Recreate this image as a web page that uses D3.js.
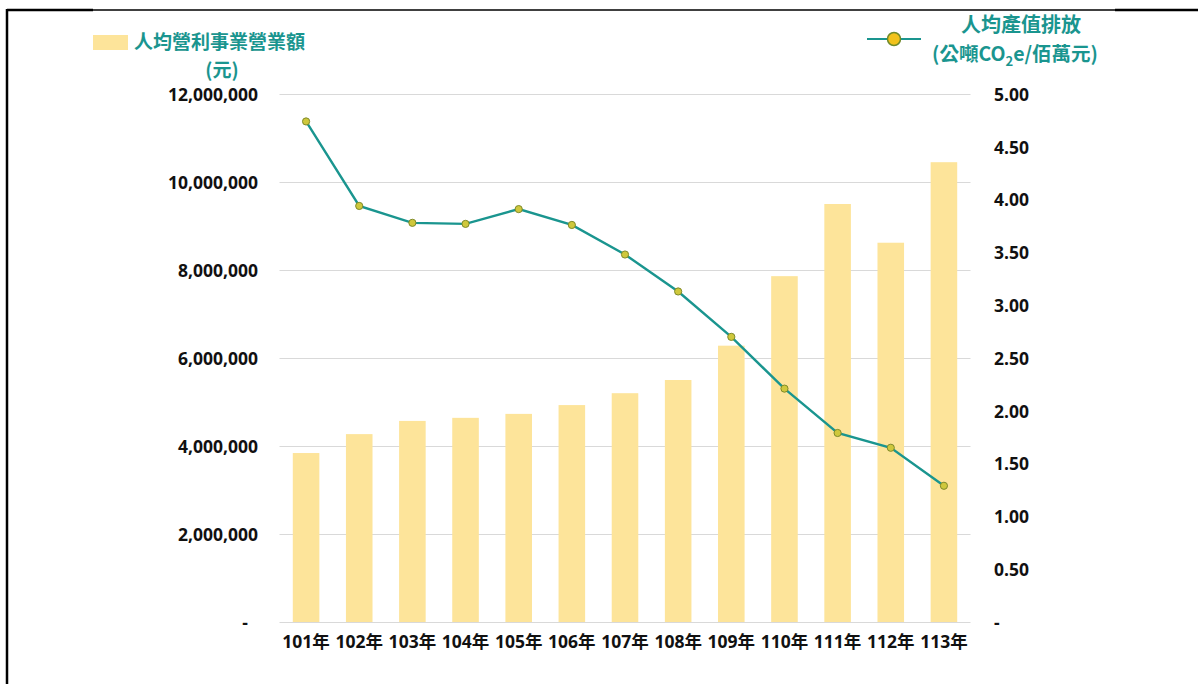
<!DOCTYPE html>
<html><head><meta charset="utf-8">
<script src="https://cdn.jsdelivr.net/npm/d3@7"></script>
<style>
html,body{margin:0;padding:0;background:#fff;}
svg{display:block;}
</style></head>
<body><svg id="c" width="1198" height="684"></svg>
<script>
const categories = ["101年","102年","103年","104年","105年","106年","107年","108年","109年","110年","111年","112年","113年"];
const revenuePerCapita = [3840000,4270000,4570000,4640000,4730000,4930000,5200000,5500000,6280000,7860000,9500000,8620000,10450000];
const emissionPerOutput = [4.74,3.94,3.78,3.77,3.91,3.76,3.48,3.13,2.70,2.21,1.79,1.65,1.29];
const leftTicks = [0,2000000,4000000,6000000,8000000,10000000,12000000];
const rightTicks = [0,0.5,1,1.5,2,2.5,3,3.5,4,4.5,5];
const legendBar = ["人均營利事業營業額","(元)"];
const legendLine = ["人均產值排放","(公噸CO","2","e/佰萬元)"];

const svg = d3.select("#c");
const FONT = "'Open Sans','Noto Sans CJK TC',sans-serif";
const CJK = "'Noto Sans CJK TC','Open Sans',sans-serif";
const teal = "#1a958f";

// frame
svg.append("line").attr("x1",7).attr("x2",1198).attr("y1",10).attr("y2",10).attr("stroke","#000").attr("stroke-width",1.5);
svg.append("line").attr("x1",7).attr("x2",93).attr("y1",10).attr("y2",10).attr("stroke","#000").attr("stroke-width",2.5);
svg.append("line").attr("x1",1115).attr("x2",1198).attr("y1",10).attr("y2",10).attr("stroke","#000").attr("stroke-width",2.5);
svg.append("line").attr("x1",7).attr("x2",7).attr("y1",9).attr("y2",684).attr("stroke","#000").attr("stroke-width",2.5);

const x = d3.scaleBand().domain(categories).range([279.5,970.5]).paddingInner(0.5).paddingOuter(0.25);
const yL = d3.scaleLinear().domain([0,12000000]).range([622,94]);
const yR = d3.scaleLinear().domain([0,5]).range([622,94]);

// gridlines
svg.append("g").selectAll("line").data(leftTicks).join("line")
  .attr("x1",279.5).attr("x2",970.5)
  .attr("y1",d=>yL(d)+0.5).attr("y2",d=>yL(d)+0.5)
  .attr("stroke","#d9d9d9").attr("stroke-width",1);

// bars
svg.append("g").selectAll("rect").data(categories).join("rect")
  .attr("x",d=>x(d)).attr("width",x.bandwidth())
  .attr("y",(d,i)=>yL(revenuePerCapita[i]))
  .attr("height",(d,i)=>yL(0)-yL(revenuePerCapita[i]))
  .attr("fill","#fde49a");

// left axis
const axL = svg.append("g").attr("transform","translate(258,0)")
  .call(d3.axisLeft(yL).tickValues(leftTicks).tickSize(0).tickPadding(0)
    .tickFormat(d=> d===0 ? "-" : d3.format(",")(d)));
axL.select(".domain").remove();
axL.selectAll("text").attr("font-family",FONT).attr("font-size",17.5).attr("font-weight",700).attr("fill","#111").attr("dy","0.36em");
axL.selectAll("text").filter(d=>d===0).attr("dx",-10);

// right axis
const axR = svg.append("g").attr("transform","translate(994,0)")
  .call(d3.axisRight(yR).tickValues(rightTicks).tickSize(0).tickPadding(0)
    .tickFormat(d=> d===0 ? "-" : d3.format(".2f")(d)));
axR.select(".domain").remove();
axR.selectAll("text").attr("font-family",FONT).attr("font-size",17.5).attr("font-weight",700).attr("fill","#111").attr("dy","0.36em");

// bottom axis
const axB = svg.append("g").attr("transform","translate(0,636)")
  .call(d3.axisBottom(x).tickSize(0).tickPadding(0));
axB.select(".domain").remove();
axB.selectAll("text").attr("font-family",FONT).attr("font-size",17.5).attr("font-weight",700).attr("fill","#111").attr("dy","0.71em");

// line
const cx = d => x(d)+x.bandwidth()/2;
const line = d3.line().x((d,i)=>cx(categories[i])).y(d=>yR(d));
svg.append("path").datum(emissionPerOutput).attr("d",line)
  .attr("fill","none").attr("stroke",teal).attr("stroke-width",2.4);
svg.append("g").selectAll("circle").data(emissionPerOutput).join("circle")
  .attr("cx",(d,i)=>cx(categories[i])).attr("cy",d=>yR(d)).attr("r",3.6)
  .attr("fill","#cfc83c").attr("stroke","#7f8a2a").attr("stroke-width",1);

// legend - bar
svg.append("rect").attr("x",93).attr("y",35).attr("width",35).attr("height",15).attr("fill","#fde49a");
svg.append("text").attr("x",134).attr("y",42).attr("dy","0.36em")
  .attr("font-family",CJK).attr("font-size",19).attr("font-weight",700).attr("fill",teal)
  .text(legendBar[0]);
svg.append("text").attr("x",222).attr("y",70).attr("dy","0.36em").attr("text-anchor","middle")
  .attr("font-family",CJK).attr("font-size",19).attr("font-weight",700).attr("fill",teal)
  .text(legendBar[1]);

// legend - line
svg.append("line").attr("x1",867).attr("x2",921).attr("y1",39).attr("y2",39).attr("stroke",teal).attr("stroke-width",2.2);
svg.append("circle").attr("cx",894).attr("cy",39).attr("r",6.5).attr("fill","#f2c21b").attr("stroke","#6f8a2a").attr("stroke-width",1.5);
svg.append("text").attr("x",1021).attr("y",25).attr("dy","0.36em").attr("text-anchor","middle")
  .attr("font-family",CJK).attr("font-size",20).attr("font-weight",700).attr("fill",teal)
  .text(legendLine[0]);
const t2 = svg.append("text").attr("x",1015).attr("y",54).attr("dy","0.36em").attr("text-anchor","middle")
  .attr("font-family",CJK).attr("font-size",19.5).attr("font-weight",700).attr("fill",teal);
t2.append("tspan").text(legendLine[1]);
t2.append("tspan").attr("font-size",13).attr("dy","5").text(legendLine[2]);
t2.append("tspan").attr("dy","-5").text(legendLine[3]);
</script>
</body></html>
